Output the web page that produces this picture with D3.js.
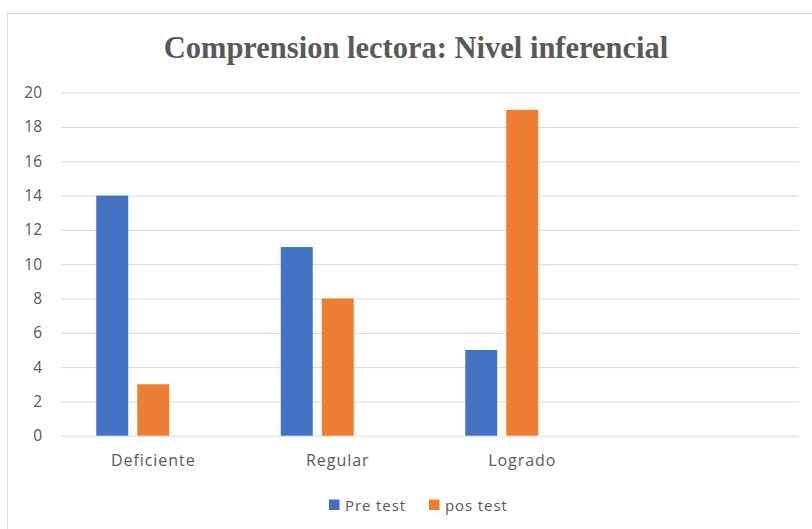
<!DOCTYPE html>
<html>
<head>
<meta charset="utf-8">
<style>
  body { margin: 0; background: #fff; }
  .tick text { font-family: "Open Sans", sans-serif; fill: #595959; }
</style>
<script src="https://cdnjs.cloudflare.com/ajax/libs/d3/7.8.5/d3.min.js"></script>
<title>Comprension lectora</title>
</head>
<body>
<svg width="812" height="529"></svg>
<script>
// data
var categories = ["Deficiente", "Regular", "Logrado", ""];
var seriesNames = ["Pre test", "pos test", ""];
var preTest = [14, 11, 5, null];
var posTest = [3, 8, 19, null];
var yTicks = [0, 2, 4, 6, 8, 10, 12, 14, 16, 18, 20];
var colors = ["#4472c4", "#ed7d31", "none"];

var svg = d3.select("svg");
var plotLeft = 61, plotRight = 799, plotTop = 92.7, plotBottom = 435.7;

// chart frame
svg.append("rect")
  .attr("x", 7.5).attr("y", 13.5)
  .attr("width", 820).attr("height", 540)
  .attr("fill", "#fff")
  .attr("stroke", "#d9d9d9");

// title
svg.append("text")
  .attr("x", 416).attr("y", 58)
  .attr("text-anchor", "middle")
  .attr("font-family", "Liberation Serif, serif")
  .attr("font-weight", "bold")
  .attr("font-size", "30.5px")
  .attr("fill", "#595959")
  .text("Comprension lectora: Nivel inferencial");

var x0 = d3.scaleBand().domain(categories).range([plotLeft, plotRight]).padding(0);
var x1 = d3.scaleBand().domain(seriesNames).range([0, x0.bandwidth()])
  .paddingInner(0.22).paddingOuter(0.86);
var y = d3.scaleLinear().domain([0, 20]).range([plotBottom, plotTop]);

// gridlines + y labels
var yAxis = svg.append("g")
  .attr("transform", "translate(" + plotLeft + ",0)")
  .call(d3.axisLeft(y).tickValues(yTicks).tickSize(-(plotRight - plotLeft)).tickPadding(19));
yAxis.select(".domain").remove();
yAxis.selectAll(".tick line").attr("stroke", "#d9d9d9");
yAxis.selectAll(".tick text").attr("font-size", "15.5px");

// x labels
var xAxis = svg.append("g")
  .attr("transform", "translate(0," + plotBottom + ")")
  .call(d3.axisBottom(x0).tickSize(0).tickPadding(19));
xAxis.select(".domain").remove();
xAxis.selectAll(".tick text").attr("font-size", "16px").attr("letter-spacing", "0.95px");

// bars
var rows = categories.map(function (c, i) {
  return { cat: c, vals: [preTest[i], posTest[i], null] };
});
var groups = svg.selectAll(".grp")
  .data(rows)
  .enter().append("g")
  .attr("class", "grp")
  .attr("transform", function (d) { return "translate(" + x0(d.cat) + ",0)"; });

groups.selectAll("rect")
  .data(function (d) {
    return d.vals.map(function (v, j) { return { key: seriesNames[j], v: v, j: j }; })
      .filter(function (e) { return e.v != null; });
  })
  .enter().append("rect")
  .attr("x", function (d) { return x1(d.key); })
  .attr("y", function (d) { return y(d.v); })
  .attr("width", x1.bandwidth())
  .attr("height", function (d) { return plotBottom - y(d.v); })
  .attr("fill", function (d) { return colors[d.j]; });

// legend
var legend = svg.append("g").attr("transform", "translate(329,499.5)");
var items = [
  { name: seriesNames[0], color: colors[0], x: 0 },
  { name: seriesNames[1], color: colors[1], x: 100 }
];
var li = legend.selectAll("g").data(items).enter().append("g")
  .attr("transform", function (d) { return "translate(" + d.x + ",0)"; });
li.append("rect").attr("width", 10.5).attr("height", 10.5)
  .attr("fill", function (d) { return d.color; });
li.append("text")
  .attr("x", 16).attr("y", 11.5)
  .attr("font-family", "Open Sans, sans-serif")
  .attr("font-size", "15px")
  .attr("letter-spacing", "0.9px")
  .attr("fill", "#595959")
  .text(function (d) { return d.name; });
</script>
</body>
</html>
